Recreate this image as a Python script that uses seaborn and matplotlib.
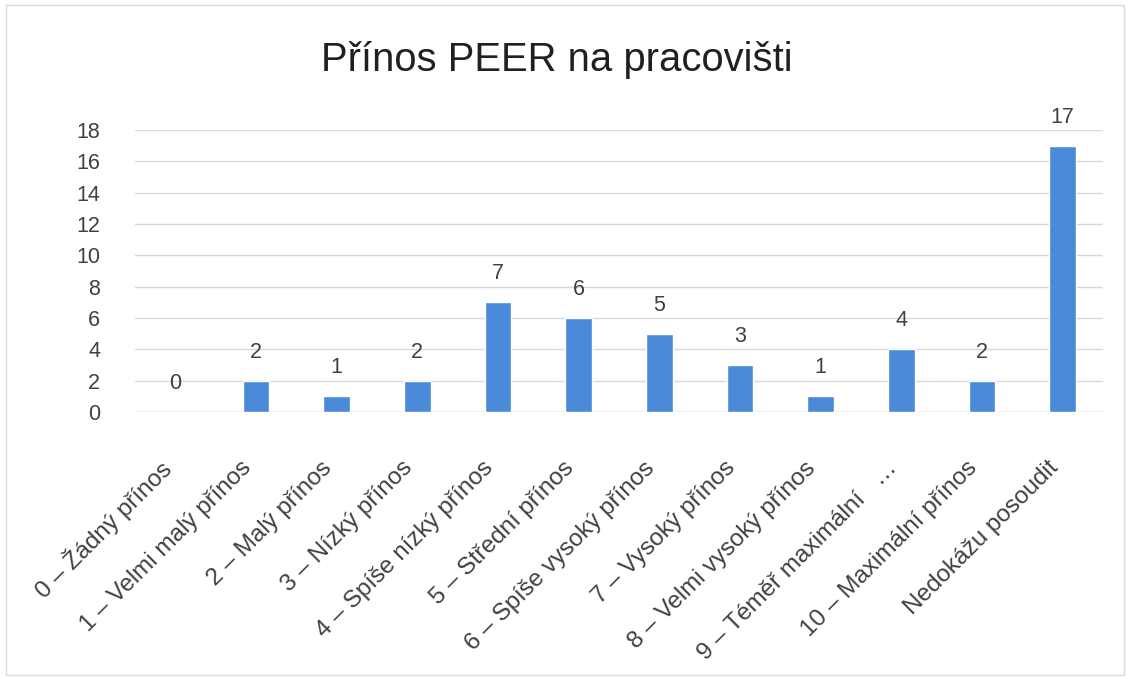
import matplotlib
matplotlib.use("Agg")
import matplotlib.pyplot as plt
import matplotlib.transforms as mtransforms
import seaborn as sns
import pandas as pd
from matplotlib.patches import Rectangle

categories = ["0 – Žádný přínos", "1 – Velmi malý přínos", "2 – Malý přínos", "3 – Nízký přínos",
              "4 – Spíše nízký přínos", "5 – Střední přínos", "6 – Spíše vysoký přínos",
              "7 – Vysoký přínos", "8 – Velmi vysoký přínos", "9 – Téměř maximální   …",
              "10 – Maximální přínos", "Nedokážu posoudit"]
values = [0, 2, 1, 2, 7, 6, 5, 3, 1, 4, 2, 17]
yticks = [0, 2, 4, 6, 8, 10, 12, 14, 16, 18]
title = "Přínos PEER na pracovišti"

sns.set_style("white")
plt.rcParams['font.family'] = ['Liberation Sans', 'DejaVu Sans']

df = pd.DataFrame({"cat": categories, "val": values})
fig = plt.figure(figsize=(11.32, 6.79), dpi=100)
ax = fig.add_axes([135/1132, 1-412/679, (1103-135)/1132, (412-130)/679])
sns.barplot(data=df, x="cat", y="val", color="#4a8ad8", width=0.33, ax=ax, saturation=1)
ax.set_ylim(0, 18)
ax.set_xlim(-0.5, len(categories)-0.5)
ax.set_yticks(yticks)
ax.yaxis.grid(True, color="#d9d9d9", linewidth=1)
ax.set_axisbelow(True)
for s in ax.spines.values():
    s.set_visible(False)
ax.axhline(0, color="#d9d9d9", linewidth=1, zorder=0.5)
ax.set_xlabel("")
ax.set_ylabel("")
ax.tick_params(axis="y", length=0, labelsize=15.5, colors="#404040", pad=25)
ax.tick_params(axis="x", length=0, labelsize=17.5, colors="#404040", pad=38)
ax.set_xticks(range(len(categories)))
ax.set_xticklabels(categories, rotation=45, ha="right", va="center", rotation_mode="anchor")
shift = mtransforms.ScaledTranslation(-8/100, 0, fig.dpi_scale_trans)
for lab in ax.get_xticklabels():
    lab.set_color("#404040")
    lab.set_transform(lab.get_transform() + shift)
for i, v in enumerate(values):
    ax.annotate(str(v), (i, v), xytext=(0, 13), textcoords="offset points",
                ha="center", va="bottom", fontsize=15.5, color="#404040")
fig.text(557/1132, 1-60/679, title, ha="center", va="center", fontsize=28.8, color="#202020")
fig.patches.append(Rectangle((6/1132, 4/679), 1118/1132, 670/679, transform=fig.transFigure,
                             fill=False, edgecolor="#d9d9d9", linewidth=1))
fig.savefig("out.png", dpi=100)
